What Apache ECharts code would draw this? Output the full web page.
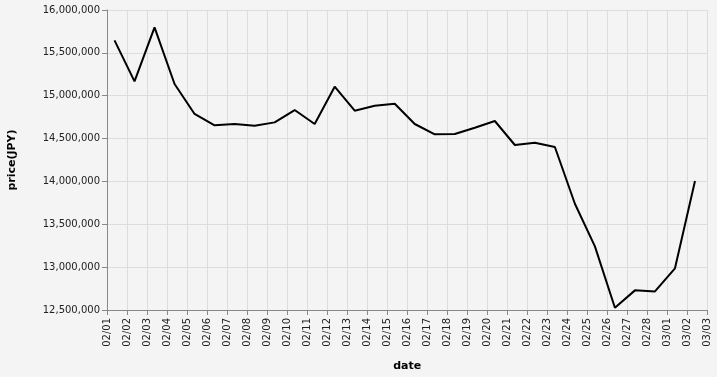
<!DOCTYPE html>
<html>
<head>
<meta charset="utf-8">
<script src="https://cdn.jsdelivr.net/npm/echarts@6/dist/echarts.min.js"></script>
<style>
html,body{margin:0;padding:0;background:#f4f4f4;}
#c{width:717px;height:377px;}
</style>
</head>
<body>
<div id="c"></div>
<script>
// Days (Feb 2025 then Mar 2025), each point is stamped at 09:00 local
const dates = [
  '2025-02-01','2025-02-02','2025-02-03','2025-02-04','2025-02-05','2025-02-06',
  '2025-02-07','2025-02-08','2025-02-09','2025-02-10','2025-02-11','2025-02-12',
  '2025-02-13','2025-02-14','2025-02-15','2025-02-16','2025-02-17','2025-02-18',
  '2025-02-19','2025-02-20','2025-02-21','2025-02-22','2025-02-23','2025-02-24',
  '2025-02-25','2025-02-26','2025-02-27','2025-02-28','2025-03-01','2025-03-02'
];
const prices = [
  15645000,15167000,15797000,15137000,14787000,14654000,
  14670000,14650000,14689000,14833000,14670000,15105000,
  14825000,14883000,14907000,14670000,14549000,14553000,
  14627000,14705000,14425000,14452000,14402000,13740000,
  13242000,12527000,12729000,12717000,12986000,14005000
];
const xTitle = 'date';
const yTitle = 'price(JPY)';
const xStart = '2025-02-01';
const xEnd = '2025-03-03';
const yMin = 12500000, yMax = 16000000, yStep = 500000;

function toLocal(s, h) {
  const p = s.split('-').map(Number);
  return new Date(p[0], p[1] - 1, p[2], h || 0).getTime();
}
const DAY = 86400000;
const seriesData = dates.map((d, i) => [toLocal(d, 9), prices[i]]);

const chart = echarts.init(document.getElementById('c'), null, {renderer: 'canvas'});
const axisColor = '#888';
const font = 'DejaVu Sans';
chart.setOption({
  backgroundColor: '#f4f4f4',
  animation: false,
  grid: {left: 107, right: 9.5, top: 10, bottom: 67, containLabel: false, outerBoundsMode: 'none'},
  xAxis: {
    type: 'time',
    min: toLocal(xStart), max: toLocal(xEnd),
    minInterval: DAY, maxInterval: DAY, interval: DAY,
    name: xTitle, nameLocation: 'middle', nameGap: 51,
    nameTextStyle: {fontFamily: font, fontSize: 11, fontWeight: 'bold', color: '#000'},
    axisLine: {lineStyle: {color: axisColor, width: 1}},
    axisTick: {show: true, length: 5, lineStyle: {color: axisColor}},
    splitLine: {show: true, lineStyle: {color: '#ddd', width: 1}},
    axisLabel: {
      rotate: 90, fontFamily: font, fontSize: 10, color: '#222', margin: 8,
      hideOverlap: false, showMinLabel: true, showMaxLabel: true,
      formatter: function (v) {
        const d = new Date(v);
        const mm = String(d.getMonth() + 1).padStart(2, '0');
        const dd = String(d.getDate()).padStart(2, '0');
        return mm + '/' + dd;
      }
    }
  },
  yAxis: {
    type: 'value', min: yMin, max: yMax, interval: yStep,
    name: yTitle, nameLocation: 'middle', nameGap: 89,
    nameTextStyle: {fontFamily: font, fontSize: 11, fontWeight: 'bold', color: '#000'},
    axisLine: {show: true, lineStyle: {color: axisColor, width: 1}},
    axisTick: {show: true, length: 5, lineStyle: {color: axisColor}},
    splitLine: {show: true, lineStyle: {color: '#ddd', width: 1}},
    axisLabel: {
      fontFamily: font, fontSize: 10, color: '#222', margin: 7,
      formatter: v => v.toLocaleString('en-US')
    }
  },
  series: [{
    type: 'line', data: seriesData, showSymbol: false, symbol: 'none',
    lineStyle: {color: '#000', width: 2}, itemStyle: {color: '#000'}
  }]
});
</script>
</body>
</html>
